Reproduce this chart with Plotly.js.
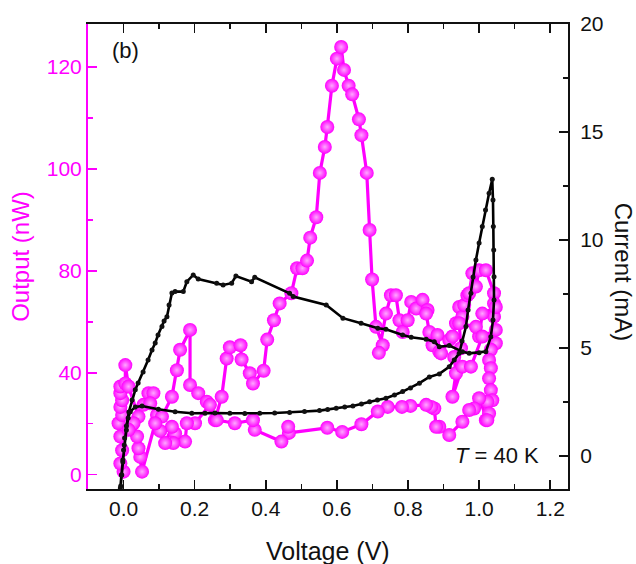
<!DOCTYPE html>
<html>
<head>
<meta charset="utf-8">
<script src="https://cdn.plot.ly/plotly-3.0.1.min.js"></script>
<style>html,body{margin:0;padding:0;background:#fff;}#chart{width:636px;height:564px;}</style>
</head>
<body>
<div id="chart"></div>
<script>
// Current (mA) vs Voltage (V) — hysteresis loop
const voltageI = [-0.008,-0.005,-0.002,0.000,0.003,0.008,0.015,0.024,0.033,0.041,0.055,0.069,0.080,0.089,0.097,0.108,0.114,0.122,0.128,0.136,0.145,0.168,0.178,0.196,0.210,0.262,0.280,0.304,0.316,0.360,0.369,0.467,0.477,0.570,0.617,0.668,0.715,0.738,0.785,0.809,0.851,0.874,0.888,0.916,0.953,0.972,1.000,1.019,1.033,1.039,1.042,1.042,1.041,1.040,1.039,1.037,1.028,1.018,1.009,1.000,0.991,0.983,0.977,0.969,0.963,0.952,0.944,0.930,0.916,0.888,0.860,0.832,0.807,0.785,0.762,0.738,0.714,0.692,0.669,0.645,0.622,0.598,0.574,0.551,0.509,0.467,0.425,0.383,0.341,0.299,0.257,0.229,0.192,0.145,0.098,0.052,0.033,0.019,0.013,0.008,0.002,-0.002,-0.006,-0.009];
const currentI = [-1.39,-0.88,-0.28,0.28,0.83,1.39,2.04,2.59,3.06,3.38,3.89,4.44,4.91,5.23,5.60,5.99,6.25,6.45,6.99,7.55,7.61,7.61,8.07,8.38,8.19,8.00,7.92,8.00,8.33,8.07,8.27,7.53,7.38,6.99,6.38,6.14,5.91,5.87,5.60,5.50,5.40,5.29,5.06,5.11,4.83,4.75,4.78,4.83,5.52,6.30,7.22,8.30,9.54,10.62,11.85,12.81,12.16,11.39,10.62,9.86,9.07,8.29,7.53,6.76,5.99,5.32,4.75,4.44,4.13,3.80,3.66,3.37,3.15,2.98,2.82,2.67,2.59,2.51,2.41,2.31,2.27,2.21,2.15,2.10,2.06,2.01,1.99,1.98,1.97,1.98,1.99,1.98,1.98,2.05,2.16,2.31,2.27,2.05,1.76,1.20,0.51,-0.19,-0.88,-1.48];

// Output (nW) vs Voltage (V)
const voltageP = [0.000,-0.009,-0.004,-0.009,-0.014,-0.004,-0.009,-0.004,-0.009,-0.009,0.005,0.005,0.014,0.042,0.056,0.070,0.084,0.075,0.094,0.108,0.136,0.150,0.159,0.187,0.187,0.210,0.234,0.257,0.276,0.290,0.299,0.329,0.332,0.355,0.364,0.394,0.404,0.423,0.439,0.472,0.488,0.503,0.516,0.525,0.542,0.552,0.566,0.573,0.586,0.600,0.612,0.620,0.633,0.643,0.662,0.669,0.684,0.692,0.699,0.710,0.729,0.718,0.738,0.752,0.766,0.776,0.785,0.799,0.809,0.823,0.841,0.855,0.851,0.860,0.869,0.883,0.888,0.893,0.916,0.925,0.935,0.944,0.953,0.958,0.967,0.972,0.981,0.991,1.000,1.019,1.042,1.042,1.042,1.047,1.009,1.000,0.991,0.944,0.949,0.930,0.935,0.925,0.953,0.977,1.009,1.047,1.047,1.033,1.028,1.033,1.028,1.033,1.037,1.023,1.028,1.019,1.023,1.000,0.986,0.972,0.953,0.916,0.888,0.879,0.874,0.865,0.851,0.807,0.783,0.743,0.715,0.669,0.615,0.573,0.465,0.463,0.444,0.369,0.364,0.313,0.262,0.243,0.201,0.178,0.173,0.145,0.140,0.136,0.117,0.103,0.089,0.052,0.047,0.042,0.038,0.028,0.014];
const outputP = [40.6,42.2,44.8,47.5,50.1,51.7,53.3,54.6,56.0,57.3,57.9,61.5,57.3,51.4,53.7,56.0,56.0,54.0,51.7,51.4,55.3,60.5,64.5,68.4,57.6,56.0,54.3,50.7,55.3,62.8,65.0,65.4,62.6,59.9,57.9,60.4,66.5,70.3,73.6,75.6,80.5,80.5,82.0,86.5,90.5,99.2,104.3,108.2,116.3,121.6,123.9,119.4,116.3,114.6,109.7,106.6,99.2,88.0,78.3,69.0,65.4,63.9,71.6,75.2,75.2,70.3,68.0,70.3,73.9,72.6,74.3,72.3,71.6,68.0,65.4,67.4,64.1,63.8,66.4,67.1,69.7,72.9,71.0,73.3,75.2,75.6,79.5,76.9,80.1,80.1,75.6,73.6,71.0,72.9,71.6,67.1,69.0,69.7,64.8,63.1,59.9,55.3,61.2,61.2,67.1,68.4,65.8,64.5,62.5,60.9,58.9,56.6,54.6,54.3,52.0,50.7,50.7,55.0,53.0,52.7,50.4,47.8,49.4,49.4,53.0,53.3,53.7,53.5,53.3,53.3,52.4,49.9,48.4,49.2,48.2,49.4,46.5,48.8,50.7,50.1,50.7,53.7,50.1,50.1,46.5,48.1,46.2,49.4,46.2,48.6,50.1,40.6,43.5,45.2,47.5,50.1,48.8];

// Tick labels
const xTickVals = [0.0,0.2,0.4,0.6,0.8,1.0,1.2];
const xTickText = ["0.0","0.2","0.4","0.6","0.8","1.0","1.2"];
const yLeftTickVals = [40,60,80,100,120];
const yLeftTickText = ["0","40","80","100","120"];
const yRightTickVals = [0,5,10,15,20];

const MAG = '#ff00ff';
const FONT = 'Liberation Sans, Arial, sans-serif';

const traces = [
  {
    x: voltageP, y: outputP, yaxis: 'y', type: 'scatter', mode: 'lines+markers',
    line: {color: MAG, width: 3.2},
    marker: {color: MAG, size: 14, gradient: {type: 'radial', color: '#ffa8ff'}, line: {width: 0}},
    showlegend: false, hoverinfo: 'skip'
  },
  {
    x: voltageI, y: currentI, yaxis: 'y2', type: 'scatter', mode: 'lines+markers',
    line: {color: '#000', width: 2.6},
    marker: {color: '#111', size: 5},
    showlegend: false, hoverinfo: 'skip'
  }
];

const layout = {
  width: 636, height: 564,
  margin: {l: 88, r: 68, t: 24, b: 75},
  paper_bgcolor: '#fff', plot_bgcolor: '#fff',
  font: {family: FONT, size: 21, color: '#111'},
  xaxis: {
    range: [-0.1, 1.25], tickvals: xTickVals, ticktext: xTickText,
    ticks: 'inside', ticklen: 9, tickwidth: 1.5, tickcolor: '#111',
    minor: {tickvals: [-0.1,0.1,0.3,0.5,0.7,0.9,1.1], ticks: 'inside', ticklen: 5, tickwidth: 1.5, tickcolor: '#111'},
    showline: true, linecolor: '#111', linewidth: 2, mirror: 'ticks',
    showgrid: false, zeroline: false,
    tickfont: {family: FONT, size: 21, color: '#111'}
  },
  yaxis: {
    range: [37.2, 128.4], tickvals: yLeftTickVals, ticktext: yLeftTickText,
    ticks: 'inside', ticklen: 9, tickwidth: 1.5, tickcolor: MAG,
    minor: {tickvals: [50,70,90,110], ticks: 'inside', ticklen: 5, tickwidth: 1.5, tickcolor: MAG},
    showline: true, linecolor: MAG, linewidth: 2,
    showgrid: false, zeroline: false,
    tickfont: {family: FONT, size: 21, color: MAG},
    title: {text: 'Output (nW)', font: {family: FONT, size: 24, color: MAG}}
  },
  yaxis2: {
    overlaying: 'y', side: 'right',
    range: [-1.53, 20], tickvals: yRightTickVals,
    ticks: 'inside', ticklen: 9, tickwidth: 1.5, tickcolor: '#111',
    minor: {tickvals: [2.5,7.5,12.5,17.5], ticks: 'inside', ticklen: 5, tickwidth: 1.5, tickcolor: '#111'},
    showline: true, linecolor: '#111', linewidth: 2,
    showgrid: false, zeroline: false, ticklabelstandoff: 6,
    tickfont: {family: FONT, size: 21, color: '#111'}
  },
  annotations: [
    {text: 'Voltage (V)', xref: 'paper', yref: 'paper', x: 0.5, y: -0.133, xanchor: 'center', yanchor: 'middle',
     showarrow: false, font: {family: FONT, size: 25, color: '#111'}},
    {text: 'Current (mA)', xref: 'paper', yref: 'paper', x: 1.115, y: 0.467, xanchor: 'center', yanchor: 'middle',
     textangle: 90, showarrow: false, font: {family: FONT, size: 24, color: '#111'}},
    {text: '(b)', xref: 'paper', yref: 'paper', x: 0.045, y: 0.975, xanchor: 'left', yanchor: 'top',
     showarrow: false, font: {family: FONT, size: 22, color: '#111'}},
    {text: '<i>T</i> = 40 K', xref: 'paper', yref: 'paper', x: 0.944, y: 0.04, xanchor: 'right', yanchor: 'bottom',
     showarrow: false, font: {family: FONT, size: 22, color: '#111'}}
  ]
};

Plotly.newPlot('chart', traces, layout, {displayModeBar: false, staticPlot: true});
</script>
</body>
</html>
